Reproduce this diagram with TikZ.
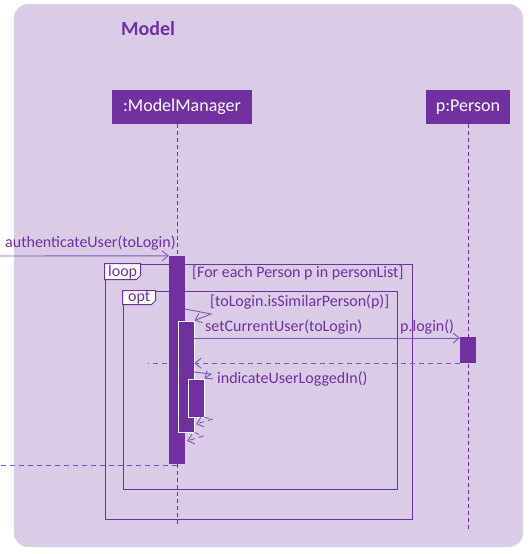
\documentclass[tikz,border=0pt]{standalone}
\usepackage{fontspec}
\setmainfont{Carlito}
\usetikzlibrary{arrows.meta}
\definecolor{bgl}{HTML}{DACCE6}
\definecolor{pur}{HTML}{7030A0}
\definecolor{arr}{HTML}{8654B8}
\begin{document}
\begin{tikzpicture}[x=1pt,y=-1pt,
  bgbox/.style={rectangle,rounded corners=14pt,fill=bgl,minimum width=509pt,minimum height=543pt,inner sep=0pt},
  ttl/.style={font=\fontsize{20}{22}\selectfont\bfseries,text=pur,inner sep=0pt},
  head/.style={rectangle,fill=pur,text=white,font=\fontsize{18}{20}\selectfont,minimum height=34pt,inner sep=0pt},
  actbar/.style={rectangle,fill=pur,minimum width=16pt,inner sep=0pt},
  actnest/.style={actbar,draw=white,line width=0.9pt},
  life/.style={draw=pur,dashed,line width=0.8pt,dash pattern=on 4pt off 3pt},
  frm/.style={draw=pur,line width=0.9pt},
  tab/.style={draw=pur,fill=white,line width=0.9pt},
  lbl/.style={font=\fontsize{16}{18}\selectfont,text=pur,inner sep=0pt,anchor=west},
  msg/.style={draw=arr,line width=0.9pt,-{Straight Barb[length=6pt,width=10pt]}},
  ret/.style={msg,dash pattern=on 5pt off 4pt},
  retl/.style={draw=arr,line width=0.9pt,dash pattern=on 5pt off 4pt}
]
\useasboundingbox (0,0) rectangle (531,554);
\fill[white] (0,0) rectangle (531,554);
\node[bgbox] (bg) at (268.5,275.5) {};
\node[ttl,anchor=west] (title) at (121,29) {Model};

% lifeline heads
\node[head,minimum width=140pt] (mm) at (182,107) {:ModelManager};
\node[head,minimum width=84pt] (pp) at (468,107) {p:Person};

% frames
\node[frm,rectangle,minimum width=307pt,minimum height=255pt,inner sep=0pt] (loopf) at (258.5,391.5) {};
\node[frm,rectangle,minimum width=274pt,minimum height=198pt,inner sep=0pt] (optf) at (260,390) {};
\draw[tab] (loopf.north west) -- ++(36,0) -- ++(0,12) -- ++(-4,4) -- ++(-32,0) -- cycle;
\node[lbl] (looplbl) at (108,272) {loop};
\draw[tab] (optf.north west) -- ++(33,0) -- ++(0,10) -- ++(-4,4) -- ++(-29,0) -- cycle;
\node[lbl] (optlbl) at (128,298) {opt};
\node[lbl] (g1) at (192,273) {[For each Person p in personList]};
\node[lbl] (g2) at (210,302) {[toLogin.isSimilarPerson(p)]};

% activation bars (positions)
\node[actbar,minimum height=208pt] (a1) at (177,360) {};
\coordinate (mmtop) at (177,124);
\coordinate (mmend) at (177,524);
\coordinate (ppend) at (468,529);
\coordinate (pa0) at (468,350);

% lifelines
\draw[life] (mmtop) -- (a1.north);
\draw[life] (a1.south) -- (mmend);
\draw[life] (pp.south) -- (pa0);
\draw[life] (pa0) -- (ppend);

% incoming / outgoing
\coordinate (inL) at (0,256);
\coordinate (outL) at (0,465);
\draw[msg] (inL) -- (a1.north west);
\node[lbl] (m1) at (5,243) {authenticateUser(toLogin)};
\draw[retl] (177,465) -- (outL);

% return from person passing behind bars
\coordinate (rl) at (148,363);
\draw[retl] (194,363) -- (rl);

\fill[pur] (a1.north west) rectangle (a1.south east);
\node[actnest,minimum height=111pt] (a2) at (186,376.5) {};
\node[actnest,minimum height=38pt] (a3) at (196,398) {};
\node[actbar,minimum height=26pt] (pa) at (468,350) {};

% self call 1
\coordinate (s1a) at (185,309);
\coordinate (s1b) at (211,314);
\draw[msg] (s1a) -- (s1b) -- (a2.north east);

% setCurrentUser / p.login()
\draw[msg] (a2.east |- 0,338) -- (pa.west |- 0,338);
\node[lbl] (m2) at (205,327) {setCurrentUser(toLogin)};
\node[lbl] (m3) at (400,327) {p.login()};

% return from person
\draw[ret] (pa.south west) -- (a2.east |- pa.south west);

% self call 2
\coordinate (s2a) at (194,372);
\coordinate (s2b) at (211,374);
\draw[msg] (s2a) -- (s2b) -- (a3.north east);
\node[lbl] (m4) at (217,379) {indicateUserLoggedIn()};

% returns from nested
\coordinate (r3b) at (213,419);
\coordinate (r3c) at (196,424);
\draw[ret] (a3.south east) -- (r3b) -- (r3c);
\coordinate (r2b) at (203,436);
\coordinate (r2c) at (187,441);
\draw[ret] (a2.south east) -- (r2b) -- (r2c);
\end{tikzpicture}
\end{document}
